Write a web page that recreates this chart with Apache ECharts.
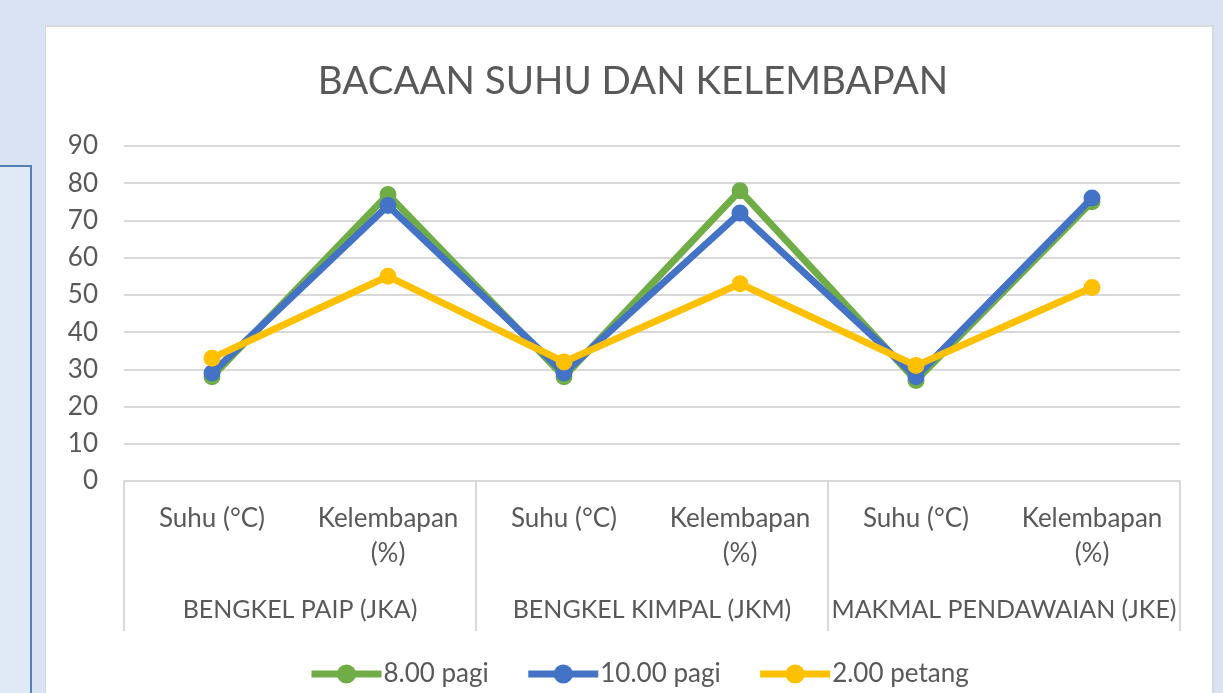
<!DOCTYPE html>
<html>
<head>
<meta charset="utf-8">
<script src="https://cdn.jsdelivr.net/npm/echarts@6/dist/echarts.min.js"></script>
<style>
  html, body { margin: 0; padding: 0; }
  body { width: 1223px; height: 693px; background: #dae3f3; position: relative; overflow: hidden; }
  .side-box { position: absolute; left: -10px; top: 165px; width: 38px; height: 600px; background: #dfe8f5; border: 2px solid #5381b6; }
  .panel { position: absolute; left: 45px; top: 25px; width: 1166px; height: 700px; background: #fff; border: 2px solid #d9d9d9; border-left-width: 1px; }
  #chart { position: absolute; left: 0; top: 0; width: 1223px; height: 693px; }
</style>
</head>
<body>
<div class="side-box"></div>
<div class="panel"></div>
<div id="chart"></div>
<script>
  const title = 'BACAAN SUHU DAN KELEMBAPAN';
  const categories = ['Suhu (°C)', 'Kelembapan\n(%)', 'Suhu (°C)', 'Kelembapan\n(%)', 'Suhu (°C)', 'Kelembapan\n(%)'];
  const groups = ['BENGKEL PAIP (JKA)', 'BENGKEL KIMPAL (JKM)', 'MAKMAL PENDAWAIAN (JKE)'];
  const pagi8 = [28, 77, 28, 78, 27, 75];
  const pagi10 = [29, 74, 29, 72, 28, 76];
  const petang2 = [33, 55, 32, 53, 31, 52];
  const seriesNames = ['8.00 pagi', '10.00 pagi', '2.00 petang'];
  const seriesColors = ['#70ad47', '#4472c4', '#ffc000'];

  const font = 'Lato, "Open Sans", sans-serif';
  const textColor = '#595959';
  const gridColor = '#d9d9d9';

  const chart = echarts.init(document.getElementById('chart'), null, { renderer: 'canvas' });

  const series = [pagi8, pagi10, petang2].map((data, i) => ({
    name: seriesNames[i],
    type: 'line',
    data: data,
    symbol: 'circle',
    symbolSize: 17,
    color: seriesColors[i],
    lineStyle: { width: 7, color: seriesColors[i] },
    itemStyle: { color: seriesColors[i] },
    z: 2 + i
  }));

  chart.setOption({
    animation: false,
    backgroundColor: 'transparent',
    textStyle: { fontFamily: font },
    title: {
      text: title,
      left: 628,
      textAlign: 'center',
      top: 57,
      textStyle: { fontFamily: font, fontSize: 38.5, fontWeight: 'normal', color: textColor }
    },
    legend: {
      top: 656,
      left: 303,
      itemWidth: 70,
      itemHeight: 24,
      itemGap: 36,
      lineStyle: { width: 7 },
      textStyle: { fontFamily: font, fontSize: 26, color: textColor, padding: [0, 0, 0, -3] },
      data: seriesNames
    },
    grid: { left: 124, right: 43, top: 146, bottom: 212, containLabel: false },
    xAxis: [
      {
        type: 'category',
        data: categories,
        boundaryGap: true,
        axisLine: { lineStyle: { color: gridColor, width: 2 } },
        axisTick: { show: false },
        axisLabel: { interval: 0, margin: 20, fontFamily: font, fontSize: 26, lineHeight: 35, color: textColor }
      },
      {
        type: 'category',
        data: groups,
        position: 'bottom',
        boundaryGap: true,
        axisLine: { show: false },
        axisTick: { show: true, interval: 0, length: 150, lineStyle: { color: gridColor, width: 2 } },
        axisLabel: { interval: 0, margin: 116, fontFamily: font, fontSize: 25, color: textColor }
      }
    ],
    yAxis: {
      type: 'value',
      min: 0,
      max: 90,
      interval: 10,
      axisLine: { show: false },
      axisTick: { show: false },
      axisLabel: { margin: 26, fontFamily: font, fontSize: 26, color: textColor },
      splitLine: { lineStyle: { color: gridColor, width: 2 } }
    },
    series: series
  });
</script>
</body>
</html>
